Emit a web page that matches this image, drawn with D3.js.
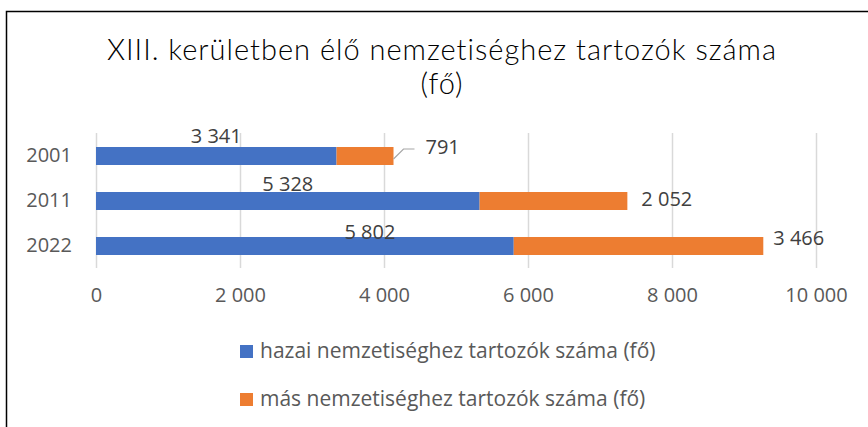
<!DOCTYPE html>
<html>
<head>
<meta charset="utf-8">
<script src="https://cdn.jsdelivr.net/npm/d3@7"></script>
<style>
  body { margin: 0; background: #fff; }
  svg { display: block; }
</style>
</head>
<body>
<div id="chart"></div>
<script>
// chart data
const years = ["2001", "2011", "2022"];
const hazai = [3341, 5328, 5802];
const mas = [791, 2052, 3466];
const xTicks = [0, 2000, 4000, 6000, 8000, 10000];
const seriesNames = ["hazai nemzetiséghez tartozók száma (fő)", "más nemzetiséghez tartozók száma (fő)"];
const colors = ["#4472C4", "#ED7D31"];

const width = 868, height = 427;
const svg = d3.select('#chart').append('svg')
    .attr('width', width)
    .attr('height', height);

// frame (only top and left edge visible in the crop)
svg.append('rect')
    .attr('x', 6.5).attr('y', 11.5)
    .attr('width', width + 20).attr('height', height + 20)
    .attr('fill', 'none')
    .attr('stroke', '#000')
    .attr('stroke-width', 1.5);

// title
const title = svg.append('text')
    .attr('text-anchor', 'middle')
    .style('font-family', 'Lato, sans-serif')
    .style('font-weight', 300)
    .style('font-size', '29px')
    .style('letter-spacing', '1px')
    .style('fill', '#000');
title.append('tspan').attr('x', 442).attr('y', 60).text('XIII. kerületben élő nemzetiséghez tartozók száma');
title.append('tspan').attr('x', 442).attr('y', 94).text('(fő)');

const x = d3.scaleLinear().domain([0, 10000]).range([96, 816]);
const y = d3.scaleBand().domain(years).range([133.5, 268.5]).paddingInner(0.6).paddingOuter(0.3);

const fontAxis = "'Open Sans', sans-serif";
const textColor = '#595959';

// gridlines
svg.append('g')
    .selectAll('line')
    .data(xTicks)
    .enter().append('line')
    .attr('x1', d => Math.round(x(d)) + 0.5)
    .attr('x2', d => Math.round(x(d)) + 0.5)
    .attr('y1', 133)
    .attr('y2', 268)
    .attr('stroke', '#D9D9D9')
    .attr('stroke-width', 1.5);

// x axis labels
const xAxis = svg.append('g')
    .attr('transform', 'translate(0,268)')
    .call(d3.axisBottom(x).tickValues(xTicks).tickSize(0).tickPadding(20)
        .tickFormat(d => d3.format(',')(d).replace(/,/g, ' ')));
xAxis.select('.domain').remove();
xAxis.selectAll('text')
    .style('font-family', fontAxis)
    .style('font-size', '20px')
    .style('fill', textColor);

// y axis labels
const yAxis = svg.append('g')
    .attr('transform', 'translate(96,0)')
    .call(d3.axisLeft(y).tickSize(0).tickPadding(24));
yAxis.select('.domain').remove();
yAxis.selectAll('text')
    .style('font-family', fontAxis)
    .style('font-size', '20px')
    .style('fill', textColor);

// bars
const rows = years.map((yr, i) => ({ year: yr, a: hazai[i], b: mas[i] }));

svg.append('g').selectAll('rect')
    .data(rows)
    .enter().append('rect')
    .attr('x', x(0))
    .attr('y', d => y(d.year))
    .attr('width', d => x(d.a) - x(0))
    .attr('height', y.bandwidth())
    .attr('fill', colors[0]);

svg.append('g').selectAll('rect')
    .data(rows)
    .enter().append('rect')
    .attr('x', d => x(d.a))
    .attr('y', d => y(d.year))
    .attr('width', d => x(d.a + d.b) - x(d.a))
    .attr('height', y.bandwidth())
    .attr('fill', colors[1]);

const fmt = v => d3.format(',')(v).replace(/,/g, ' ');

// labels for blue segments (moved a bit like in the original)
const blueShift = [0, 0, 65];
const blueDy = [-4, -1, 2];
svg.append('g').selectAll('text')
    .data(rows)
    .enter().append('text')
    .attr('x', (d, i) => x(d.a / 2) + blueShift[i])
    .attr('y', (d, i) => y(d.year) + blueDy[i])
    .attr('text-anchor', 'middle')
    .style('font-family', fontAxis)
    .style('font-size', '20px')
    .style('fill', '#404040')
    .text(d => fmt(d.a));

// labels for orange segments
const orangeDx = [32, 14, 10];
const orangeDy = [-9, -2, -8];
svg.append('g').selectAll('text')
    .data(rows)
    .enter().append('text')
    .attr('x', (d, i) => x(d.a + d.b) + orangeDx[i])
    .attr('y', (d, i) => y(d.year) + y.bandwidth() / 2 + orangeDy[i])
    .attr('dy', '0.35em')
    .style('font-family', fontAxis)
    .style('font-size', '20px')
    .style('fill', '#404040')
    .text(d => fmt(d.b));

// leader line for the 791 label
const r0 = rows[0];
const ex = x(r0.a + r0.b);
const ly = y(r0.year) + y.bandwidth() / 2;
svg.append('path')
    .attr('d', `M${ex},${ly + 3} L${ex + 10},${ly - 7} L${ex + 21},${ly - 7}`)
    .attr('fill', 'none')
    .attr('stroke', '#A6A6A6')
    .attr('stroke-width', 1.2);

// legend
const legend = svg.append('g').selectAll('g')
    .data(seriesNames)
    .enter().append('g')
    .attr('transform', (d, i) => `translate(240,${345 + i * 48})`);
legend.append('rect')
    .attr('width', 13).attr('height', 13)
    .attr('fill', (d, i) => colors[i]);
legend.append('text')
    .attr('x', 20)
    .attr('y', 6)
    .attr('dy', '0.35em')
    .style('font-family', fontAxis)
    .style('font-size', '21px')
    .style('fill', textColor)
    .text(d => d);
</script>
</body>
</html>
